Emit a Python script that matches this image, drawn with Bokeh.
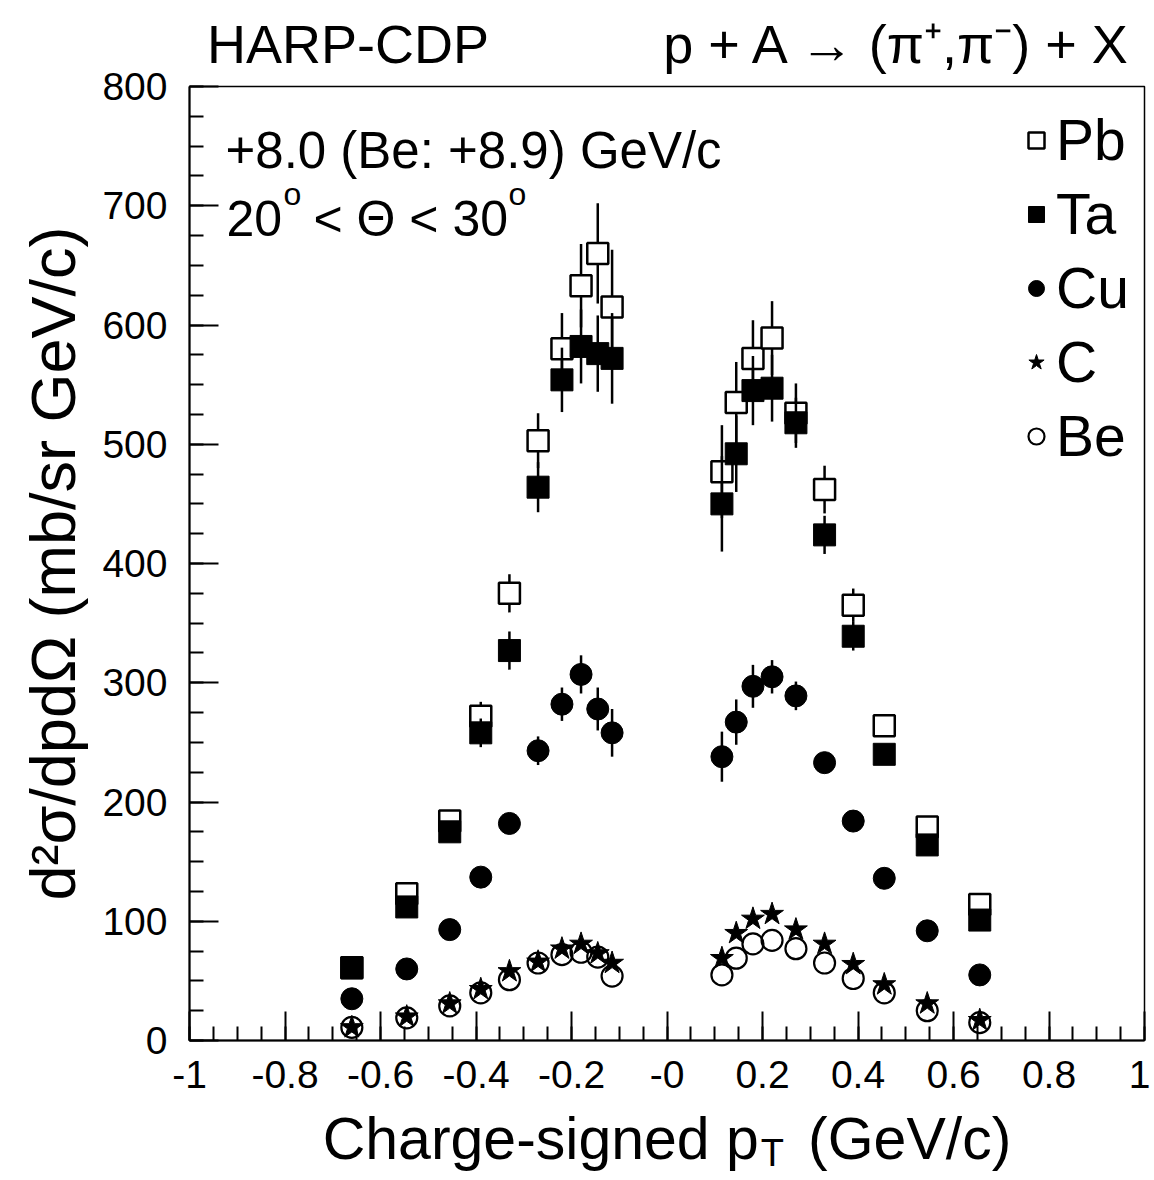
import numpy as np
from bokeh.plotting import figure
from bokeh.models import (FixedTicker, Label, Legend, LegendItem, Range1d, LinearAxis)
from bokeh.embed import file_html
from bokeh.resources import INLINE

# ---------------- data ----------------
pt = [-0.66, -0.545, -0.455, -0.39, -0.33, -0.27, -0.22, -0.18, -0.145, -0.115,
      0.115, 0.145, 0.18, 0.22, 0.27, 0.33, 0.39, 0.455, 0.545, 0.655]

pb = [61, 123, 184, 272, 375, 503, 580, 633, 660, 615,
      477, 535, 572, 589, 526, 462, 365, 264, 179, 114]
pb_err = [3, 4, 5, 12, 16, 23, 30, 35, 42, 48,
          39, 34, 32, 31, 25, 20, 14, 8, 4, 3]

ta = [61, 112, 175, 258, 327, 464, 554, 582, 576, 572,
      450, 492, 545, 547, 518, 424, 339, 240, 164, 101]
ta_err = [3, 4, 5, 12, 16, 21, 27, 31, 32, 38,
          40, 32, 29, 28, 21, 16, 12, 6, 4, 3]

cu = [35, 60, 93, 137, 182, 243, 282, 307, 278, 258,
      238, 267, 297, 305, 289, 233, 184, 136, 92, 55]
cu_err = [2, 3, 4, 5, 6, 12, 14, 16, 18, 20,
          21, 19, 18, 14, 12, 5, 4, 3, 2, 2]

c_vals = [11, 20, 31, 43, 58, 66, 77, 81, 73, 65,
          69, 90, 102, 106, 93, 81, 64, 47, 31, 17]
be_vals = [11, 19, 29, 40, 51, 65, 72, 74, 70, 54,
           55, 69, 81, 84, 77, 65, 52, 40, 25, 15]

x_ticks = [-1.0, -0.8, -0.6, -0.4, -0.2, 0.0, 0.2, 0.4, 0.6, 0.8, 1.0]
x_tick_labels = ["-1", "-0.8", "-0.6", "-0.4", "-0.2", "-0", "0.2", "0.4", "0.6", "0.8", "1"]
y_ticks = [0, 100, 200, 300, 400, 500, 600, 700, 800]

title_left = "HARP-CDP"
title_right = "p + A → (π⁺,π⁻) + X"
beam_text = "+8.0 (Be: +8.9) GeV/c"
x_title_main = "Charge-signed p\u00a0\u00a0\u00a0(GeV/c)"
x_title_sub = "T"
y_title = "d²σ/dpdΩ (mb/sr GeV/c)"

FONT = "Liberation Sans"

# frame geometry (pixels)
FL, FT, FW, FH = 189, 86, 955, 954
W, H = 1150, 1180

p = figure(width=W, height=H, output_backend="svg", toolbar_location=None,
           x_range=Range1d(-1, 1), y_range=Range1d(0, 800),
           min_border_left=FL, min_border_right=W - FL - FW, min_border_top=FT,
           min_border_bottom=H - FT - FH)
p.grid.visible = False
p.background_fill_color = "white"
p.border_fill_color = "white"
p.outline_line_color = "black"
p.outline_line_width = 1.5


def px2x(px):
    return -1 + 2.0 * (px - FL) / FW


# axes
x_minor = [float(v) for v in np.round(np.arange(-1.0, 1.0001, 0.05), 2)]
y_minor = list(range(0, 801, 25))
p.xaxis.ticker = FixedTicker(ticks=x_ticks, minor_ticks=x_minor)
p.yaxis.ticker = FixedTicker(ticks=y_ticks, minor_ticks=y_minor)
p.xaxis.major_label_overrides = {t: l for t, l in zip(x_ticks, x_tick_labels)}
for ax in (p.xaxis, p.yaxis):
    ax.axis_line_width = 2
    ax.major_tick_in = 29
    ax.major_tick_out = 0
    ax.minor_tick_in = 14
    ax.minor_tick_out = 0
    ax.major_tick_line_width = 2
    ax.minor_tick_line_width = 2
    ax.major_label_text_font = FONT
    ax.major_label_text_font_size = "39px"
    ax.major_label_text_color = "black"
p.xaxis.major_label_standoff = 20
p.yaxis.major_label_standoff = 22

p.yaxis.axis_label = y_title
p.yaxis.axis_label_text_font = FONT
p.yaxis.axis_label_text_font_size = "63px"
p.yaxis.axis_label_text_font_style = "normal"
p.yaxis.axis_label_text_color = "black"
p.yaxis.axis_label_standoff = 11


def text_axis(place, ticks, labels, size, standoff):
    ax = LinearAxis(ticker=FixedTicker(ticks=ticks, minor_ticks=[]),
                    major_label_overrides={t: l for t, l in zip(ticks, labels)})
    ax.axis_line_color = None
    ax.major_tick_line_color = None
    ax.minor_tick_line_color = None
    ax.major_tick_in = 0
    ax.major_tick_out = 0
    ax.major_label_text_font = FONT
    ax.major_label_text_font_size = size
    ax.major_label_text_color = "black"
    ax.major_label_standoff = standoff
    p.add_layout(ax, place)
    return ax


# titles above the frame
text_axis("above", [round(px2x(347.5), 4), round(px2x(898), 4)],
          [title_left, title_right], "54px", 13)

# x title below the frame: subscript as tick label, main text as axis label
xt = text_axis("below", [round(px2x(772), 4)], [x_title_sub], "38px", 41)
xt.axis_label = x_title_main
xt.axis_label_text_font = FONT
xt.axis_label_text_font_size = "59px"
xt.axis_label_text_font_style = "normal"
xt.axis_label_text_color = "black"
xt.axis_label_standoff = -71

# ---------------- data marks ----------------
lw = 2.5
p.segment(x0=pt, y0=[v - e for v, e in zip(pb, pb_err)], x1=pt,
          y1=[v + e for v, e in zip(pb, pb_err)], line_color="black", line_width=lw)
r_pb = p.scatter(pt, pb, marker="square", size=21, fill_color="white",
                 line_color="black", line_width=2.5)
p.segment(x0=pt, y0=[v - e for v, e in zip(ta, ta_err)], x1=pt,
          y1=[v + e for v, e in zip(ta, ta_err)], line_color="black", line_width=lw)
r_ta = p.scatter(pt, ta, marker="square", size=22, fill_color="black",
                 line_color="black", line_width=1)
p.segment(x0=pt, y0=[v - e for v, e in zip(cu, cu_err)], x1=pt,
          y1=[v + e for v, e in zip(cu, cu_err)], line_color="black", line_width=lw)
r_cu = p.scatter(pt, cu, marker="circle", size=22, fill_color="black",
                 line_color="black", line_width=1)
r_c = p.scatter(pt, c_vals, marker="star", size=24, fill_color="black",
                line_color="black", line_width=1)
r_be = p.scatter(pt, be_vals, marker="circle", size=21, fill_alpha=0,
                 line_color="black", line_width=2.2)

legend = Legend(items=[LegendItem(label="Pb", renderers=[r_pb]),
                       LegendItem(label="Ta", renderers=[r_ta]),
                       LegendItem(label="Cu", renderers=[r_cu]),
                       LegendItem(label="C", renderers=[r_c]),
                       LegendItem(label="Be", renderers=[r_be])],
                location=(827, 571), glyph_width=40, glyph_height=40,
                label_standoff=0, spacing=8, padding=0, margin=0,
                border_line_color=None, background_fill_alpha=0,
                label_text_font=FONT, label_text_font_size="57px",
                label_text_color="black")
p.add_layout(legend)

# ---------------- texts inside the frame ----------------
def lab(px, y, text, size):
    p.add_layout(Label(x=px2x(px), y=y, text=text, text_font=FONT, text_font_size=size,
                       text_align="left", text_baseline="alphabetic", text_color="black"))

lab(225, 746, beam_text, "51px")
base2 = 689
lab(226, base2, "20", "50px")
lab(283, base2 + 21, "o", "32px")
lab(313, base2, "< Θ < 30", "50px")
lab(508, base2 + 21, "o", "32px")

open("out.html", "w").write(file_html(p, INLINE))
